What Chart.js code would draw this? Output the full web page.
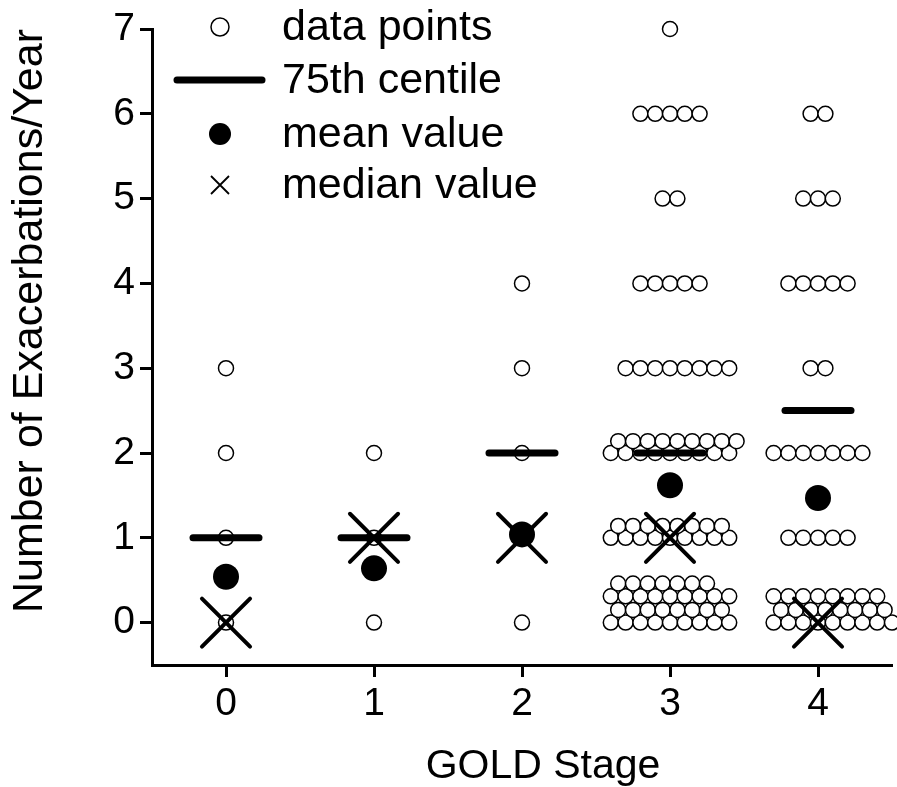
<!DOCTYPE html>
<html lang="en">
<head>
<meta charset="UTF-8">
<title>Exacerbations by GOLD Stage</title>
<style>
  body { margin: 0; background: #fff; }
</style>
</head>
<body>
<canvas id="goldChart" width="897" height="787"></canvas>

<script src="https://cdn.jsdelivr.net/npm/chart.js"></script>
<script>
const stageTicks = [0, 1, 2, 3, 4];
const countTicks = [0, 1, 2, 3, 4, 5, 6, 7];

// individual patients, one entry per drawn row: [plotted value, x position of each circle]
// rows listed bottom-up so the upper rows sit on top, like the original
const stage0Rows = [[0, [0]], [1, [0]], [2, [0]], [3, [0]]];
const stage1Rows = [[0, [1]], [1, [1]], [2, [1]]];
const stage2Rows = [[0, [2]], [1, [2]], [2, [2]], [3, [2]], [4, [2]]];
const stage3Rows = [
    [0, [2.6, 2.7, 2.8, 2.9, 3.0, 3.1, 3.2, 3.3, 3.4]],
    [0.15, [2.65, 2.75, 2.85, 2.95, 3.05, 3.15, 3.25, 3.35]],
    [0.31, [2.6, 2.7, 2.8, 2.9, 3.0, 3.1, 3.2, 3.3, 3.4]],
    [0.46, [2.65, 2.75, 2.85, 2.95, 3.05, 3.15, 3.25]],
    [1, [2.6, 2.7, 2.8, 2.9, 3.0, 3.1, 3.2, 3.3, 3.4]],
    [1.14, [2.65, 2.75, 2.85, 2.95, 3.05, 3.15, 3.25, 3.35]],
    [2, [2.6, 2.7, 2.8, 2.9, 3.0, 3.1, 3.2, 3.3, 3.4]],
    [2.14, [2.65, 2.75, 2.85, 2.95, 3.05, 3.15, 3.25, 3.35, 3.45]],
    [3, [2.7, 2.8, 2.9, 3.0, 3.1, 3.2, 3.3, 3.4]],
    [4, [2.8, 2.9, 3.0, 3.1, 3.2]],
    [5, [2.95, 3.05]],
    [6, [2.8, 2.9, 3.0, 3.1, 3.2]],
    [7, [3.0]]
];
const stage4Rows = [
    [0, [3.7, 3.8, 3.9, 4.0, 4.1, 4.2, 4.3, 4.4, 4.5]],
    [0.15, [3.75, 3.85, 3.95, 4.05, 4.15, 4.25, 4.35, 4.45]],
    [0.31, [3.7, 3.8, 3.9, 4.0, 4.1, 4.2, 4.3, 4.4]],
    [1, [3.8, 3.9, 4.0, 4.1, 4.2]],
    [2, [3.7, 3.8, 3.9, 4.0, 4.1, 4.2, 4.3]],
    [3, [3.95, 4.05]],
    [4, [3.8, 3.9, 4.0, 4.1, 4.2]],
    [5, [3.9, 4.0, 4.1]],
    [6, [3.95, 4.05]]
];

const centile75 = [1, 1, 2, 2, 2.5];
const meanValues = [0.54, 0.64, 1.04, 1.62, 1.47];
const medianValues = [0, 1, 1, 1, 0];

const seriesLabels = ["data points", "75th centile", "mean value", "median value"];

const fontFamily = "'Liberation Sans', Arial, Helvetica, sans-serif";

function rowsToPoints(rows) {
    return rows.flatMap(([y, xs]) => xs.map(x => ({ x: x, y: y })));
}

const allPoints = [stage0Rows, stage1Rows, stage2Rows, stage3Rows, stage4Rows].flatMap(rowsToPoints);

function perStage(values) {
    return stageTicks.map((s, i) => ({ x: s, y: values[i] }));
}

// round line ends for the centile bars and the crosses
const capPlugin = {
    id: "caps",
    beforeDatasetsDraw(chart) { chart.ctx.lineCap = "round"; },
    afterDatasetsDraw(chart) { chart.ctx.lineCap = "butt"; }
};

// legend inside the plot plus the x axis title
const legendPlugin = {
    id: "insideLegend",
    afterDraw(chart) {
        const ctx = chart.ctx;
        const area = chart.chartArea;
        const mx = area.left + 68;
        const rowY = [area.top - 2, area.top + 51, area.top + 105, area.top + 156];

        ctx.save();
        ctx.strokeStyle = "#000";
        ctx.fillStyle = "#000";

        // open circle
        ctx.lineWidth = 1.5;
        ctx.beginPath();
        ctx.arc(mx, rowY[0], 9, 0, Math.PI * 2);
        ctx.fillStyle = "#fff";
        ctx.fill();
        ctx.stroke();

        // thick line
        ctx.lineWidth = 7;
        ctx.lineCap = "round";
        ctx.beginPath();
        ctx.moveTo(mx - 43, rowY[1]);
        ctx.lineTo(mx + 42, rowY[1]);
        ctx.stroke();

        // filled dot
        ctx.fillStyle = "#000";
        ctx.beginPath();
        ctx.arc(mx, rowY[2], 11, 0, Math.PI * 2);
        ctx.fill();

        // small cross
        ctx.lineWidth = 1.8;
        ctx.lineCap = "butt";
        ctx.beginPath();
        ctx.moveTo(mx - 9, rowY[3] - 9);
        ctx.lineTo(mx + 9, rowY[3] + 9);
        ctx.moveTo(mx - 9, rowY[3] + 9);
        ctx.lineTo(mx + 9, rowY[3] - 9);
        ctx.stroke();

        ctx.font = "43px " + fontFamily;
        ctx.textAlign = "left";
        ctx.textBaseline = "alphabetic";
        seriesLabels.forEach((label, i) => {
            ctx.fillText(label, mx + 62, rowY[i] + 13);
        });

        // x axis title
        ctx.font = "41px " + fontFamily;
        ctx.textAlign = "center";
        ctx.fillText("GOLD Stage", area.left + 391, 778);
        ctx.restore();
    }
};

const ctx = document.getElementById("goldChart").getContext("2d");
const goldChart = new Chart(ctx, {
    type: "scatter",
    data: {
        datasets: [
            {
                label: seriesLabels[0],
                data: allPoints,
                pointStyle: "circle",
                pointRadius: 7.5,
                pointBorderWidth: 1.5,
                pointBorderColor: "#000",
                pointBackgroundColor: "#fff",
                clip: false,
                order: 4
            },
            {
                label: seriesLabels[1],
                data: perStage(centile75),
                pointStyle: "line",
                pointRadius: 33,
                pointBorderWidth: 7,
                pointBorderColor: "#000",
                clip: false,
                order: 3
            },
            {
                label: seriesLabels[3],
                data: perStage(medianValues),
                pointStyle: "crossRot",
                pointRadius: 34,
                pointBorderWidth: 4,
                pointBorderColor: "#000",
                clip: false,
                order: 2
            },
            {
                label: seriesLabels[2],
                data: perStage(meanValues),
                pointStyle: "circle",
                pointRadius: 13,
                pointBorderWidth: 0,
                pointBackgroundColor: "#000",
                pointBorderColor: "#000",
                clip: false,
                order: 1
            }
        ]
    },
    options: {
        responsive: false,
        animation: false,
        events: [],
        layout: {
            autoPadding: false,
            padding: { top: 29, right: 5, left: 0, bottom: 0 }
        },
        plugins: {
            legend: { display: false },
            tooltip: { enabled: false }
        },
        scales: {
            x: {
                type: "linear",
                min: -0.5,
                max: 4.5,
                afterBuildTicks: axis => { axis.ticks = stageTicks.map(v => ({ value: v })); },
                afterFit: axis => { axis.height = 122; },
                grid: {
                    display: true,
                    drawOnChartArea: false,
                    drawTicks: true,
                    tickLength: 12,
                    tickWidth: 3,
                    tickColor: "#000"
                },
                border: { display: true, color: "#000", width: 3 },
                ticks: {
                    color: "#000",
                    font: { family: fontFamily, size: 39 },
                    padding: 4,
                    maxRotation: 0
                }
            },
            y: {
                type: "linear",
                min: -0.5,
                max: 7,
                afterBuildTicks: axis => { axis.ticks = countTicks.map(v => ({ value: v })); },
                afterFit: axis => { axis.width = 152; },
                grid: {
                    display: true,
                    drawOnChartArea: false,
                    drawTicks: true,
                    tickLength: 12,
                    tickWidth: 3,
                    tickColor: "#000"
                },
                border: { display: true, color: "#000", width: 3 },
                ticks: {
                    color: "#000",
                    font: { family: fontFamily, size: 39 },
                    padding: 5
                },
                title: {
                    display: true,
                    text: "Number of Exacerbations/Year",
                    align: "end",
                    color: "#000",
                    font: { family: fontFamily, size: 43 },
                    padding: { top: 4, bottom: 0 }
                }
            }
        }
    },
    plugins: [capPlugin, legendPlugin]
});
</script>
</body>
</html>
